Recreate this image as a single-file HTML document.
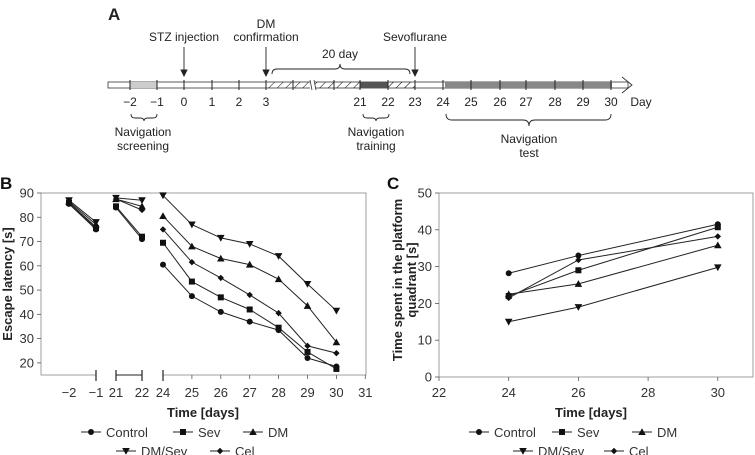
<!DOCTYPE html>
<html><head><meta charset="utf-8"><style>
body{margin:0;background:#fff}
svg{display:block;font-family:"Liberation Sans",sans-serif}
</style></head><body>
<svg id="fig" width="755" height="455" viewBox="0 0 755 455">
<defs>
<pattern id="hatch" width="6" height="6" patternUnits="userSpaceOnUse" patternTransform="rotate(45)">
<line x1="0" y1="0" x2="0" y2="6" stroke="#000" stroke-width="1"/>
</pattern>
</defs>
<g id="panelA" font-size="12" fill="#222">
<text x="108" y="20" font-size="17" font-weight="bold">A</text>
<rect x="108" y="82" width="520" height="6" fill="#fff" stroke="#333" stroke-width="0.8"/>
<rect x="130" y="82" width="27" height="6" fill="#ccc"/>
<rect x="266" y="82" width="94" height="6" fill="url(#hatch)"/>
<rect x="388" y="82" width="27" height="6" fill="url(#hatch)"/>
<rect x="360" y="82" width="28" height="6" fill="#555"/>
<rect x="445" y="82" width="167" height="6" fill="#888"/>
<rect x="310" y="80" width="5" height="10" fill="#fff"/>
<line x1="310" y1="80" x2="312" y2="90" stroke="#333" stroke-width="0.8"/>
<line x1="314" y1="80" x2="316" y2="90" stroke="#333" stroke-width="0.8"/>
<path d="M622 77 L632 85 L622 93" fill="none" stroke="#333" stroke-width="0.9"/>
<g id="aticks" stroke="#222" stroke-width="1"></g>
<g id="alabels" text-anchor="middle"></g>
<text x="641" y="106" text-anchor="middle">Day</text>
<text x="184" y="41" text-anchor="middle">STZ injection</text>
<text x="266" y="28" text-anchor="middle">DM</text>
<text x="266" y="41" text-anchor="middle">confirmation</text>
<text x="415" y="41" text-anchor="middle">Sevoflurane</text>
<g stroke="#222" stroke-width="0.9" fill="#222">
<line x1="184" y1="47" x2="184" y2="72"/><path d="M181 70 L187 70 L184 76Z"/>
<line x1="266" y1="47" x2="266" y2="72"/><path d="M263 70 L269 70 L266 76Z"/>
<line x1="415" y1="47" x2="415" y2="72"/><path d="M412 70 L418 70 L415 76Z"/>
</g>
<text x="340" y="58" text-anchor="middle">20 day</text>
<g fill="none" stroke="#222" stroke-width="0.9">
<path d="M272 74 Q272 69 277 69 L335 69 Q340 69 340 64 Q340 69 345 69 L405 69 Q410 69 410 74"/>
<path d="M131 114 Q131 118 135 118 L140 118 Q144 118 144 121 Q144 118 148 118 L153 118 Q157 118 157 114"/>
<path d="M363 114 Q363 118 367 118 L372 118 Q376 118 376 121 Q376 118 380 118 L385 118 Q389 118 389 114"/>
<path d="M446 114 Q446 120 452 120 L523 120 Q529 120 529 126 Q529 120 535 120 L605 120 Q611 120 611 114"/>
</g>
<text x="143" y="136" text-anchor="middle">Navigation</text>
<text x="143" y="150" text-anchor="middle">screening</text>
<text x="376" y="136" text-anchor="middle">Navigation</text>
<text x="376" y="150" text-anchor="middle">training</text>
<text x="529" y="143" text-anchor="middle">Navigation</text>
<text x="529" y="157" text-anchor="middle">test</text>
</g>

<g id="panelB">
<text x="0" y="189" font-size="17" font-weight="bold" fill="#111">B</text>
<rect x="41" y="193" width="325" height="182" fill="none" stroke="#888" stroke-width="0.8"/>
<g id="bAxes"></g>
<g id="bMarks"></g>
<text transform="translate(12,284) rotate(-90)" text-anchor="middle" font-size="13" font-weight="bold" fill="#222">Escape latency [s]</text>
<text x="203" y="417" text-anchor="middle" font-size="13" font-weight="bold" fill="#222">Time [days]</text>
<g id="bLegend"></g>
</g>

<g id="panelC">
<text x="387" y="189" font-size="17" font-weight="bold" fill="#111">C</text>
<rect x="439" y="193" width="314" height="184" fill="none" stroke="#888" stroke-width="0.8"/>
<g id="cAxes"></g>
<g id="cMarks"></g>
<text transform="translate(402,280) rotate(-90)" text-anchor="middle" font-size="13" font-weight="bold" fill="#222">Time spent in the platform</text>
<text transform="translate(416,280) rotate(-90)" text-anchor="middle" font-size="13" font-weight="bold" fill="#222">quadrant [s]</text>
<text x="591" y="417" text-anchor="middle" font-size="13" font-weight="bold" fill="#222">Time [days]</text>
<g id="cLegend"></g>
</g>
</svg>
<script>
// Timeline (panel A)
const aTickLabels = ["\u22122","\u22121","0","1","2","3","21","22","23","24","25","26","27","28","29","30"];
const aLabelX = [130,157,184,212,239,266,360,388,415,443,471,500,526,555,583,611];

// Panel B data
const bDays = [-2,-1,21,22,24,25,26,27,28,29,30];
const bGroups = [[0,1],[2,3],[4,5,6,7,8,9,10]];
const bYTicks = [20,30,40,50,60,70,80,90];
const bXTicks = [-2,-1,21,22,24,25,26,27,28,29,30,31];
const bControl = [85.5,75,84,71,60.5,47.5,41,37,33.5,22,18.5];
const bSev = [86,75.5,84.5,72,69.5,53.5,47,42,34.5,24.5,17.5];
const bDM = [86.5,77,87.5,84.5,80.5,68,63,60.5,54.5,43.5,28.5];
const bDMSev = [87,78,88,87,89,77,71.5,69,64,52.5,41.5];
const bCel = [86,76,87.5,83,75,61.5,55,48,40.5,27,24];

// Panel C data
const cDays = [24,26,30];
const cXTicks = [22,24,26,28,30];
const cYTicks = [0,10,20,30,40,50];
const cControl = [28.2,33,41.5];
const cSev = [22,29,40.7];
const cDM = [22.5,25.3,35.8];
const cDMSev = [15,19,29.8];
const cCel = [21.5,31.8,38.2];

const seriesNames = ["Control","Sev","DM","DM/Sev","Cel"];
const markers = ["circle","square","up","down","diamond"];
const NS = "http://www.w3.org/2000/svg";
function mk(tag, attrs, parent){const e=document.createElementNS(NS,tag);for(const k in attrs)e.setAttribute(k,attrs[k]);parent.appendChild(e);return e;}

// panel A ticks
const at=document.getElementById('aticks'), al=document.getElementById('alabels');
aLabelX.forEach((x,i)=>{
  const l=mk('line',{x1:x,y1:80,x2:x,y2:90},at);
  
  
  const t=mk('text',{x:x,y:106},al); t.textContent=aTickLabels[i];
  
  
});
[293,334].forEach(x=>mk('line',{x1:x,y1:80,x2:x,y2:90},at));

function marker(g,type,x,y){
  let e;
  if(type==='circle') e=mk('circle',{cx:x,cy:y,r:3},g);
  else if(type==='square') e=mk('rect',{x:x-3,y:y-3,width:6,height:6},g);
  else if(type==='up') e=mk('path',{d:`M${x} ${y-3.8}L${x+3.8} ${y+3}L${x-3.8} ${y+3}Z`},g);
  else if(type==='down') e=mk('path',{d:`M${x} ${y+3.8}L${x+3.8} ${y-3}L${x-3.8} ${y-3}Z`},g);
  else e=mk('path',{d:`M${x} ${y-3.2}L${x+3.2} ${y}L${x} ${y+3.2}L${x-3.2} ${y}Z`},g);
  e.setAttribute('fill','#111');
  return e;
}

// Panel B scales
function xB(d){ if(d<0) return 69+(d+2)*27; if(d<23) return 116+(d-21)*26; return 163+(d-24)*28.9; }
function yB(v){ return 375-(v-15)*(182/75); }
const bAx=document.getElementById('bAxes');
bYTicks.forEach(v=>{
  mk('line',{x1:37,y1:yB(v),x2:41,y2:yB(v),stroke:'#555','stroke-width':0.8},bAx);
  const t=mk('text',{x:34,y:yB(v)+4.5,'text-anchor':'end','font-size':13,fill:'#333'},bAx); t.textContent=v;
  
  
});
bXTicks.forEach(d=>{
  const t=mk('text',{x:xB(d),y:397,'text-anchor':'middle','font-size':13,fill:'#333'},bAx); t.textContent=(d<0?'\u2212'+(-d):d);
  
  
});
// break segments on x-axis
mk('rect',{x:96.5,y:373,width:163-96.5,height:4,fill:'#fff'},bAx);
mk('line',{x1:116,y1:375,x2:142,y2:375,stroke:'#222','stroke-width':1},bAx);
[96,116,142,163].forEach(x=>mk('line',{x1:x,y1:370,x2:x,y2:381,stroke:'#222','stroke-width':1.2},bAx));
[25,26,27,28,29,30,31].forEach(d=>mk('line',{x1:xB(d),y1:375,x2:xB(d),y2:379,stroke:'#555','stroke-width':0.8},bAx));

const bSeries=[bControl,bSev,bDM,bDMSev,bCel];
const bm=document.getElementById('bMarks');
bSeries.forEach((s,si)=>{
  bGroups.forEach(gr=>{
    const pts=gr.map(i=>xB(bDays[i])+','+yB(s[i])).join(' ');
    const pl=mk('polyline',{points:pts,fill:'none',stroke:'#222','stroke-width':1},bm);
    
    
  });
  s.forEach((v,i)=>{
    const m=marker(bm,markers[si],xB(bDays[i]),yB(v));
    
    
  });
});

// Panel C scales
function xC(d){ return 439+(d-22)*34.85; }
function yC(v){ return 377-v*3.68; }
const cAx=document.getElementById('cAxes');
cYTicks.forEach(v=>{
  mk('line',{x1:435,y1:yC(v),x2:439,y2:yC(v),stroke:'#555','stroke-width':0.8},cAx);
  const t=mk('text',{x:432,y:yC(v)+4.5,'text-anchor':'end','font-size':13,fill:'#333'},cAx); t.textContent=v;
  
  
});
cXTicks.forEach(d=>{
  mk('line',{x1:xC(d),y1:377,x2:xC(d),y2:381,stroke:'#555','stroke-width':0.8},cAx);
  const t=mk('text',{x:xC(d),y:397,'text-anchor':'middle','font-size':13,fill:'#333'},cAx); t.textContent=d;
  
  
});
const cSeries=[cControl,cSev,cDM,cDMSev,cCel];
const cm=document.getElementById('cMarks');
cSeries.forEach((s,si)=>{
  const pl=mk('polyline',{points:s.map((v,i)=>xC(cDays[i])+','+yC(v)).join(' '),fill:'none',stroke:'#222','stroke-width':1},cm);
  
  
  s.forEach((v,i)=>{
    const m=marker(cm,markers[si],xC(cDays[i]),yC(v));
    
    
  });
});

// legends
function legend(gid, pos){
  const g=document.getElementById(gid);
  pos.forEach((p,i)=>{
    const e=mk('g',{},g);
    
    
    mk('line',{x1:p[0],y1:p[1],x2:p[0]+20,y2:p[1],stroke:'#222','stroke-width':1},e);
    marker(e,markers[i],p[0]+10,p[1]);
    const t=mk('text',{x:p[0]+25,y:p[1]+5,'font-size':13,fill:'#333'},e); t.textContent=seriesNames[i];
  });
}
legend('bLegend',[[81,432],[173,432],[243,432],[116,451],[210,451]]);
legend('cLegend',[[469,432],[552,432],[632,432],[513,451],[604,451]]);
</script>
</body></html>
